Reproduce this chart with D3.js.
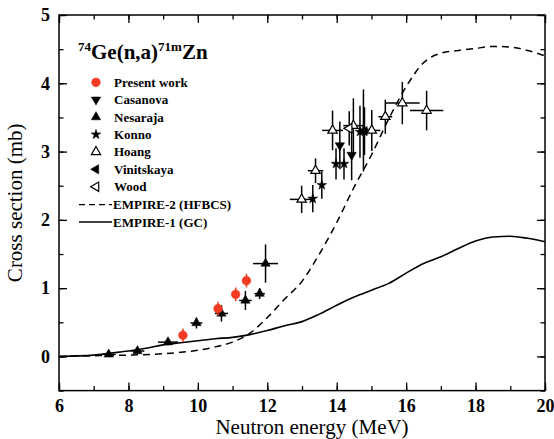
<!DOCTYPE html>
<html>
<head>
<meta charset="utf-8">
<script src="https://cdn.jsdelivr.net/npm/d3@7"></script>
<style>
  body { margin: 0; background: #fff; }
</style>
</head>
<body>
<script>
// Data

// Present work (red circles)
const presentE = [9.57, 10.58, 11.09, 11.40];
const presentS = [0.31, 0.70, 0.91, 1.11];
const presentDS = [0.10, 0.10, 0.10, 0.10];

// Nesaraja (filled up triangles)
const nesarajaE = [7.43, 8.26, 9.14, 9.96, 10.68, 11.37, 11.78, 11.95];
const nesarajaS = [0.03, 0.08, 0.21, 0.49, 0.63, 0.82, 0.92, 1.36];
const nesarajaDE = [0.20, 0.20, 0.29, 0.17, 0.19, 0.18, 0.15, 0.36];
const nesarajaDS = [0.03, 0.04, 0.05, 0.08, 0.12, 0.14, 0.08, 0.28];

// Casanova (filled down triangles)
const casanovaE = [14.09, 14.43];
const casanovaS = [3.09, 2.95];
const casanovaDS = [0.35, 0.37];

// Konno (stars)
const konnoE = [13.31, 13.57, 13.98, 14.21, 14.67, 14.77];
const konnoS = [2.31, 2.51, 2.82, 2.82, 3.29, 3.31];
const konnoDS = [0.20, 0.20, 0.23, 0.23, 0.38, 0.60];

// Hoang (open up triangles)
const hoangE = [12.99, 13.39, 13.88, 14.48, 15.01, 15.40, 15.89, 16.59];
const hoangS = [2.30, 2.72, 3.31, 3.38, 3.31, 3.51, 3.71, 3.60];
const hoangDE = [0.34, 0.22, 0.30, 0.29, 0.25, 0.20, 0.50, 0.48];
const hoangDS = [0.20, 0.18, 0.29, 0.40, 0.30, 0.25, 0.31, 0.29];

// Vinitskaya (filled left triangle)
const vinitskayaE = [14.80];
const vinitskayaS = [3.30];
const vinitskayaDS = [0.35];

// Wood (open left triangle)
const woodE = [14.36];
const woodS = [3.34];
const woodDS = [0.25];

// EMPIRE-2 (HFBCS), dashed
const empire2E = [6, 7, 8, 9, 9.5, 10, 10.5, 11, 11.5, 12, 12.5, 13, 13.5, 14, 14.5, 15, 15.5, 16, 16.5, 17, 17.5, 18, 18.5, 19, 19.5, 20];
const empire2S = [0, 0.01, 0.02, 0.04, 0.06, 0.09, 0.14, 0.21, 0.34, 0.57, 0.84, 1.10, 1.50, 1.96, 2.48, 2.95, 3.48, 3.95, 4.30, 4.44, 4.48, 4.51, 4.54, 4.53, 4.48, 4.40];

// EMPIRE-1 (GC), solid
const empire1E = [6, 7, 7.5, 8, 8.5, 9, 9.5, 10, 10.5, 11, 11.5, 12, 12.5, 13, 13.5, 14, 14.5, 15, 15.5, 16, 16.5, 17, 17.5, 18, 18.5, 19, 19.5, 20];
const empire1S = [0, 0.02, 0.05, 0.08, 0.12, 0.17, 0.20, 0.23, 0.26, 0.28, 0.32, 0.38, 0.45, 0.51, 0.62, 0.75, 0.87, 0.97, 1.07, 1.22, 1.36, 1.46, 1.58, 1.69, 1.75, 1.76, 1.73, 1.68];

const xTicks = [6, 8, 10, 12, 14, 16, 18, 20];
const yTicks = [0, 1, 2, 3, 4, 5];

const legendNames = ["Present work", "Casanova", "Nesaraja", "Konno", "Hoang", "Vinitskaya", "Wood"];

// Layout
const W = 554, H = 439;
const FONT = "Liberation Serif, DejaVu Serif, Noto Serif, serif";
const x = d3.scaleLinear().domain([6, 20]).range([59, 545]);
const y = d3.scaleLinear().domain([-0.5, 5]).range([390.6, 15]);
const red = "#f23b22";

const svg = d3.select("body").append("svg")
    .attr("width", W)
    .attr("height", H)
    .style("font-family", FONT);

// Axes - ticks pointing inward on all four sides
function styleAxis(g) {
    g.attr("font-family", null);
    g.select(".domain").remove();
    g.selectAll(".tick line").attr("stroke", "#000").attr("stroke-width", 1.3);
}

const minorX = d3.range(6, 20.01, 1);
const minorY = d3.range(-0.5, 5.01, 0.5);

svg.append("g")
    .attr("transform", `translate(0,${y(-0.5)})`)
    .call(d3.axisBottom(x).tickValues(minorX).tickSize(-4.5).tickFormat(""))
    .call(styleAxis);
svg.append("g")
    .attr("transform", `translate(0,${y(-0.5)})`)
    .call(d3.axisBottom(x).tickValues(xTicks).tickSize(-8).tickPadding(9).tickFormat(d3.format("d")))
    .call(styleAxis)
    .selectAll("text")
    .attr("fill", "#000")
    .style("font-size", "18px")
    .style("font-weight", "bold");

svg.append("g")
    .attr("transform", `translate(0,${y(5)})`)
    .call(d3.axisTop(x).tickValues(minorX).tickSize(-4.5).tickFormat(""))
    .call(styleAxis);
svg.append("g")
    .attr("transform", `translate(0,${y(5)})`)
    .call(d3.axisTop(x).tickValues(xTicks).tickSize(-8).tickFormat(""))
    .call(styleAxis);

svg.append("g")
    .attr("transform", `translate(${x(6)},0)`)
    .call(d3.axisLeft(y).tickValues(minorY).tickSize(-4.5).tickFormat(""))
    .call(styleAxis);
svg.append("g")
    .attr("transform", `translate(${x(6)},0)`)
    .call(d3.axisLeft(y).tickValues(yTicks).tickSize(-8).tickPadding(9).tickFormat(d3.format("d")))
    .call(styleAxis)
    .selectAll("text")
    .attr("fill", "#000")
    .style("font-size", "18px")
    .style("font-weight", "bold");

svg.append("g")
    .attr("transform", `translate(${x(20)},0)`)
    .call(d3.axisRight(y).tickValues(minorY).tickSize(-4.5).tickFormat(""))
    .call(styleAxis);
svg.append("g")
    .attr("transform", `translate(${x(20)},0)`)
    .call(d3.axisRight(y).tickValues(yTicks).tickSize(-8).tickFormat(""))
    .call(styleAxis);

// frame
svg.append("rect")
    .attr("x", x(6)).attr("y", y(5))
    .attr("width", x(20) - x(6)).attr("height", y(-0.5) - y(5))
    .attr("fill", "none").attr("stroke", "#000").attr("stroke-width", 1.5);

// axis titles
svg.append("text")
    .attr("x", 312)
    .attr("y", 434)
    .attr("text-anchor", "middle")
    .style("font-size", "21px")
    .text("Neutron energy (MeV)");

svg.append("text")
    .attr("transform", `translate(22,${y(2.25)}) rotate(-90)`)
    .attr("text-anchor", "middle")
    .style("font-size", "21px")
    .text("Cross section (mb)");

// Model curves
const line = d3.line().x(d => x(d[0])).y(d => y(d[1])).curve(d3.curveMonotoneX);

svg.append("path")
    .datum(d3.zip(empire2E, empire2S))
    .attr("d", line)
    .attr("fill", "none").attr("stroke", "#000").attr("stroke-width", 1.5)
    .attr("stroke-dasharray", "7,5");

svg.append("path")
    .datum(d3.zip(empire1E, empire1S))
    .attr("d", line)
    .attr("fill", "none").attr("stroke", "#000").attr("stroke-width", 1.6);

// Error bars and markers
const sym = {
    circle: d3.symbol().type(d3.symbolCircle).size(60),
    tri: d3.symbol().type(d3.symbolTriangle).size(38),
    star: d3.symbol().type(d3.symbolStar).size(30)
};

function drawSet(E, S, dE, dS, opts) {
    const pts = E.map((e, i) => ({ e: e, s: S[i], de: dE ? dE[i] : 0, ds: dS ? dS[i] : 0 }));
    const g = svg.append("g");
    const col = opts.color || "#000";
    g.selectAll(".ebx")
        .data(pts.filter(d => d.de > 0))
        .enter().append("line")
        .attr("x1", d => x(d.e - d.de)).attr("x2", d => x(d.e + d.de))
        .attr("y1", d => y(d.s)).attr("y2", d => y(d.s))
        .attr("stroke", col).attr("stroke-width", 1.5);
    g.selectAll(".eby")
        .data(pts.filter(d => d.ds > 0))
        .enter().append("line")
        .attr("x1", d => x(d.e)).attr("x2", d => x(d.e))
        .attr("y1", d => y(d.s - d.ds)).attr("y2", d => y(d.s + d.ds))
        .attr("stroke", col).attr("stroke-width", 1.5);
    g.selectAll(".mk")
        .data(pts)
        .enter().append("path")
        .attr("d", opts.symbol)
        .attr("transform", d => `translate(${x(d.e)},${y(d.s)}) rotate(${opts.rot || 0})`)
        .attr("fill", opts.open ? "#fff" : col)
        .attr("stroke", col)
        .attr("stroke-width", opts.open ? 1.2 : 0.5);
}

drawSet(nesarajaE, nesarajaS, nesarajaDE, nesarajaDS, { symbol: sym.tri });
drawSet(presentE, presentS, null, presentDS, { symbol: sym.circle, color: red });
drawSet(hoangE, hoangS, hoangDE, hoangDS, { symbol: sym.tri, open: true });
drawSet(konnoE, konnoS, null, konnoDS, { symbol: sym.star });
drawSet(casanovaE, casanovaS, null, casanovaDS, { symbol: sym.tri, rot: 180 });
drawSet(woodE, woodS, null, woodDS, { symbol: sym.tri, rot: -90, open: true });
drawSet(vinitskayaE, vinitskayaS, null, vinitskayaDS, { symbol: sym.tri, rot: -90 });

// Reaction label
const title = svg.append("text")
    .attr("x", 78).attr("y", 59)
    .style("font-size", "21px")
    .style("font-weight", "bold");
title.append("tspan").attr("dy", -8).style("font-size", "13px").text("74");
title.append("tspan").attr("dy", 8).text("Ge(n,a)");
title.append("tspan").attr("dy", -8).style("font-size", "13px").text("71m");
title.append("tspan").attr("dy", 8).text("Zn");

// Legend
const legendSyms = [
    { symbol: sym.circle, color: red },
    { symbol: sym.tri, rot: 180 },
    { symbol: sym.tri },
    { symbol: sym.star },
    { symbol: sym.tri, open: true },
    { symbol: sym.tri, rot: -90 },
    { symbol: sym.tri, rot: -90, open: true }
];
const legY0 = 82.3, legDy = 17.4;
const leg = svg.append("g");
legendNames.forEach((name, i) => {
    const o = legendSyms[i];
    const col = o.color || "#000";
    leg.append("path")
        .attr("d", o.symbol)
        .attr("transform", `translate(96,${legY0 + i * legDy}) rotate(${o.rot || 0})`)
        .attr("fill", o.open ? "#fff" : col)
        .attr("stroke", col)
        .attr("stroke-width", o.open ? 1.2 : 0.5);
    leg.append("text")
        .attr("x", 114).attr("y", legY0 + i * legDy + 4.5)
        .style("font-size", "13px")
        .style("font-weight", "bold")
        .text(name);
});
const lineNames = ["EMPIRE-2 (HFBCS)", "EMPIRE-1 (GC)"];
lineNames.forEach((name, i) => {
    const yy = legY0 + (7 + i) * legDy + 0.5;
    leg.append("line")
        .attr("x1", 79).attr("x2", 112)
        .attr("y1", yy).attr("y2", yy)
        .attr("stroke", "#000").attr("stroke-width", 1.3)
        .attr("stroke-dasharray", i === 0 ? "6,4" : null);
    leg.append("text")
        .attr("x", 113).attr("y", yy + 4.5)
        .style("font-size", "13px")
        .style("font-weight", "bold")
        .text(name);
});
</script>
</body>
</html>
